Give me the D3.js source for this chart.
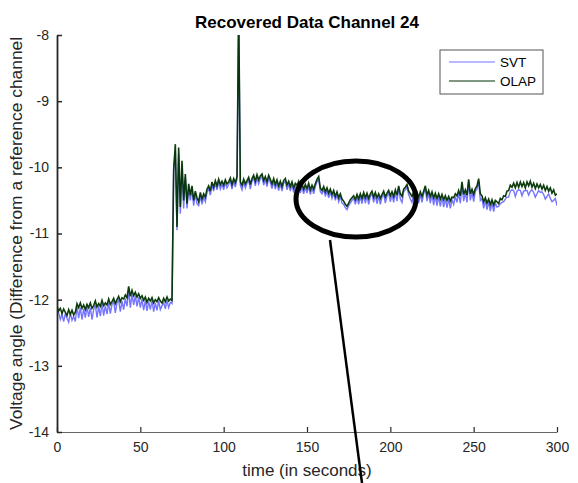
<!DOCTYPE html>
<html>
<head>
<meta charset="utf-8">
<script src="https://cdn.jsdelivr.net/npm/d3@7/dist/d3.min.js"></script>
<style>
  body { margin: 0; background: #fff; }
  svg { font-family: "Liberation Sans", Arial, sans-serif; }
</style>
</head>
<body>
<div id="chart"></div>
<script>
// sample times: one value per second, 0..300 s
const startTime = 0;
const sampleStep = 1;

// OLAP series
const olap = [
  -12.10, -12.17, -12.13, -12.21, -12.14, -12.19, -12.24, -12.15, -12.22, -12.16,
  -12.23, -12.19, -12.06, -12.12, -12.05, -12.13, -12.08, -12.15, -12.07, -12.12,
  -12.05, -12.13, -12.09, -12.02, -12.11, -12.06, -12.10, -12.01, -12.09, -12.05,
  -12.08, -11.99, -12.07, -12.03, -11.98, -12.06, -12.00, -11.95, -12.03, -11.97,
  -11.99, -11.93, -11.97, -11.80, -11.95, -11.86, -11.94, -11.89, -11.96, -11.91,
  -11.98, -11.94, -12.01, -11.96, -12.04, -11.98, -12.02, -11.97, -12.05, -12.00,
  -12.03, -11.97, -12.02, -12.05, -11.98, -12.03, -11.96, -12.02, -11.99, -12.01,
  -10.05, -9.65, -10.90, -9.70, -10.60, -9.90, -10.50, -10.10, -10.55, -10.25,
  -10.42, -10.28, -10.50, -10.36, -10.46, -10.52, -10.38, -10.48, -10.40, -10.45,
  -10.33, -10.28, -10.36, -10.22, -10.30, -10.20, -10.28, -10.18, -10.26, -10.21,
  -10.27, -10.19, -10.25, -10.22, -10.16, -10.26, -10.17, -10.23, -10.14, -7.60,
  -10.22, -10.27, -10.18, -10.25, -10.20, -10.15, -10.26, -10.17, -10.12, -10.21,
  -10.11, -10.19, -10.13, -10.10, -10.20, -10.14, -10.22, -10.12, -10.18, -10.25,
  -10.17, -10.26, -10.19, -10.28, -10.21, -10.29, -10.20, -10.17, -10.27, -10.21,
  -10.29, -10.22, -10.31, -10.24, -10.27, -10.21, -10.32, -10.25, -10.33, -10.26,
  -10.32, -10.24, -10.34, -10.27, -10.33, -10.25, -10.18, -10.14, -10.31, -10.35,
  -10.29, -10.37, -10.31, -10.39, -10.33, -10.41, -10.35, -10.44, -10.37, -10.46,
  -10.40, -10.48, -10.51, -10.56, -10.59, -10.54, -10.49, -10.46, -10.43, -10.49,
  -10.41, -10.48, -10.40, -10.47, -10.38, -10.46, -10.39, -10.47, -10.40, -10.36,
  -10.45, -10.38, -10.46, -10.40, -10.47, -10.41, -10.36, -10.45, -10.39, -10.35,
  -10.43, -10.37, -10.44, -10.34, -10.42, -10.28, -10.40, -10.44, -10.33, -10.30,
  -10.26, -10.36, -10.40, -10.44, -10.37, -10.46, -10.38, -10.45, -10.37, -10.44,
  -10.36, -10.28, -10.42, -10.35, -10.44, -10.37, -10.46, -10.39, -10.47, -10.40,
  -10.48, -10.41, -10.49, -10.43, -10.50, -10.44, -10.51, -10.45, -10.46, -10.40,
  -10.43, -10.35, -10.43, -10.22, -10.41, -10.34, -10.42, -10.18, -10.40, -10.33,
  -10.41, -10.32, -10.28, -10.17, -10.40, -10.43, -10.52, -10.46, -10.54, -10.48,
  -10.56, -10.49, -10.57, -10.50, -10.52, -10.55, -10.47, -10.49, -10.43, -10.44,
  -10.36, -10.35, -10.27, -10.30, -10.24, -10.31, -10.23, -10.30, -10.22, -10.29,
  -10.23, -10.31, -10.22, -10.28, -10.21, -10.30, -10.24, -10.32, -10.25, -10.31,
  -10.26, -10.33, -10.27, -10.35, -10.29, -10.36, -10.31, -10.39, -10.34, -10.42,
  -10.40
];

// SVT series
const svt = [
  -12.18, -12.20, -12.30, -12.22, -12.33, -12.21, -12.28, -12.34, -12.20, -12.31,
  -12.25, -12.33, -12.10, -12.28, -12.12, -12.30, -12.14, -12.27, -12.10, -12.26,
  -12.12, -12.30, -12.15, -12.08, -12.27, -12.10, -12.25, -12.06, -12.24, -12.09,
  -12.22, -12.05, -12.21, -12.07, -12.03, -12.20, -12.05, -12.01, -12.18, -12.02,
  -12.15, -11.98, -12.10, -11.86, -12.12, -11.92, -12.08, -11.94, -12.10, -11.96,
  -12.12, -11.99, -12.16, -12.01, -12.17, -12.03, -12.15, -12.01, -12.18, -12.05,
  -12.16, -12.02, -12.15, -12.09, -12.04, -12.14, -12.01, -12.12, -12.04, -12.06,
  -10.00, -9.75, -10.95, -9.80, -10.70, -10.00, -10.62, -10.15, -10.62, -10.33,
  -10.50, -10.33, -10.58, -10.40, -10.55, -10.58, -10.43, -10.56, -10.45, -10.52,
  -10.38, -10.32, -10.42, -10.26, -10.36, -10.24, -10.34, -10.22, -10.33, -10.25,
  -10.34, -10.23, -10.31, -10.26, -10.20, -10.33, -10.21, -10.30, -10.18, -7.65,
  -10.27, -10.34, -10.22, -10.31, -10.24, -10.19, -10.33, -10.21, -10.16, -10.28,
  -10.15, -10.25, -10.17, -10.14, -10.27, -10.18, -10.29, -10.16, -10.23, -10.32,
  -10.21, -10.33, -10.23, -10.35, -10.25, -10.36, -10.24, -10.21, -10.34, -10.25,
  -10.36, -10.26, -10.38, -10.28, -10.33, -10.25, -10.39, -10.29, -10.40, -10.30,
  -10.39, -10.28, -10.41, -10.31, -10.40, -10.29, -10.22, -10.18, -10.37, -10.40,
  -10.33, -10.44, -10.35, -10.46, -10.37, -10.47, -10.39, -10.50, -10.41, -10.52,
  -10.44, -10.54, -10.56, -10.61, -10.64, -10.58, -10.54, -10.50, -10.47, -10.56,
  -10.45, -10.56, -10.44, -10.55, -10.42, -10.54, -10.43, -10.56, -10.44, -10.40,
  -10.53, -10.42, -10.55, -10.44, -10.56, -10.45, -10.40, -10.54, -10.43, -10.39,
  -10.52, -10.41, -10.53, -10.38, -10.51, -10.32, -10.48, -10.53, -10.37, -10.34,
  -10.30, -10.41, -10.48, -10.53, -10.41, -10.56, -10.42, -10.54, -10.41, -10.53,
  -10.40, -10.32, -10.51, -10.39, -10.54, -10.41, -10.57, -10.43, -10.58, -10.44,
  -10.59, -10.45, -10.60, -10.47, -10.61, -10.48, -10.62, -10.49, -10.56, -10.44,
  -10.53, -10.39, -10.54, -10.26, -10.51, -10.38, -10.53, -10.22, -10.50, -10.37,
  -10.52, -10.36, -10.33, -10.21, -10.50, -10.47, -10.62, -10.50, -10.64, -10.52,
  -10.66, -10.53, -10.67, -10.54, -10.60, -10.59, -10.55, -10.53, -10.52, -10.48,
  -10.45, -10.45, -10.36, -10.34, -10.35, -10.44, -10.36, -10.34, -10.35, -10.43,
  -10.36, -10.35, -10.35, -10.42, -10.36, -10.34, -10.38, -10.45, -10.40, -10.35,
  -10.38, -10.37, -10.41, -10.48, -10.44, -10.40, -10.47, -10.52, -10.50, -10.47,
  -10.58
];

const xTicks = [0, 50, 100, 150, 200, 250, 300];
const yTicks = [-8, -9, -10, -11, -12, -13, -14];
const seriesNames = ["SVT", "OLAP"];

const width = 578, height = 483;
const margin = { top: 35, right: 21, bottom: 51, left: 57 };
const fmt = d => String(d);   // plain hyphen minus, like MATLAB

const svg = d3.select("#chart").append("svg")
  .attr("width", width).attr("height", height);

const x = d3.scaleLinear().domain([0, 300]).range([margin.left, width - margin.right]);
const y = d3.scaleLinear().domain([-14, -8]).range([height - margin.bottom, margin.top]);

svg.append("clipPath").attr("id", "plotArea")
  .append("rect")
  .attr("x", margin.left).attr("y", margin.top)
  .attr("width", x(300) - x(0)).attr("height", y(-14) - y(-8));

const line = d3.line()
  .x((d, i) => x(startTime + i * sampleStep))
  .y(d => y(d));

const plot = svg.append("g").attr("clip-path", "url(#plotArea)");
plot.append("path").datum(svt)
  .attr("fill", "none").attr("stroke", "#7575ff").attr("stroke-width", 1.4)
  .attr("d", line);
plot.append("path").datum(olap)
  .attr("fill", "none").attr("stroke", "#003300").attr("stroke-width", 1.6)
  .attr("stroke-opacity", 0.95)
  .attr("d", line);

// axes, MATLAB style with inward ticks
const xAxis = svg.append("g")
  .attr("transform", `translate(0,${y(-14)})`)
  .call(d3.axisBottom(x).tickValues(xTicks).tickFormat(fmt).tickSizeInner(-5).tickSizeOuter(0).tickPadding(10));
xAxis.select(".domain").attr("stroke", "#666").attr("stroke-width", 1.2);
xAxis.selectAll(".tick line").attr("stroke", "#262626").attr("stroke-width", 1.2);
xAxis.selectAll("text").attr("font-size", 14).attr("fill", "#262626").style("font-family", "Liberation Sans, Arial, sans-serif");

const yAxis = svg.append("g")
  .attr("transform", `translate(${x(0)},0)`)
  .call(d3.axisLeft(y).tickValues(yTicks).tickFormat(fmt).tickSizeInner(-5).tickSizeOuter(0).tickPadding(8));
yAxis.select(".domain").attr("stroke", "#262626").attr("stroke-width", 1.8);
yAxis.selectAll(".tick line").attr("stroke", "#262626").attr("stroke-width", 1.5);
yAxis.selectAll("text").attr("font-size", 14).attr("fill", "#262626").style("font-family", "Liberation Sans, Arial, sans-serif");

// title and labels
svg.append("text")
  .attr("x", 307).attr("y", 28)
  .attr("text-anchor", "middle")
  .attr("font-size", 17).attr("font-weight", "bold").attr("fill", "#000")
  .text("Recovered Data Channel 24");

svg.append("text")
  .attr("x", 307).attr("y", 476)
  .attr("text-anchor", "middle")
  .attr("font-size", 17).attr("fill", "#262626")
  .text("time (in seconds)");

svg.append("text")
  .attr("transform", "translate(22,430) rotate(-90)")
  .attr("text-anchor", "start")
  .attr("font-size", 17.4).attr("fill", "#262626")
  .text("Voltage angle (Difference from a reference channel");

// legend
const legend = svg.append("g").attr("transform", "translate(440,50)");
legend.append("rect")
  .attr("width", 103).attr("height", 44)
  .attr("fill", "#fff").attr("stroke", "#555").attr("stroke-width", 1);
const legendColors = ["#7575ff", "#003300"];
seriesNames.forEach((name, i) => {
  legend.append("line")
    .attr("x1", 9).attr("x2", 55).attr("y1", 12 + i * 19).attr("y2", 12 + i * 19)
    .attr("stroke", legendColors[i]).attr("stroke-width", 1.2);
  legend.append("text")
    .attr("x", 60).attr("y", 17 + i * 19)
    .attr("font-size", 13.5).attr("fill", "#000")
    .text(name);
});

// highlight annotation
svg.append("ellipse")
  .attr("cx", 356).attr("cy", 199).attr("rx", 60).attr("ry", 38)
  .attr("fill", "none").attr("stroke", "#000").attr("stroke-width", 5);
svg.append("line")
  .attr("x1", 330).attr("y1", 240).attr("x2", 362).attr("y2", 483)
  .attr("stroke", "#000").attr("stroke-width", 2.5);
</script>
</body>
</html>
